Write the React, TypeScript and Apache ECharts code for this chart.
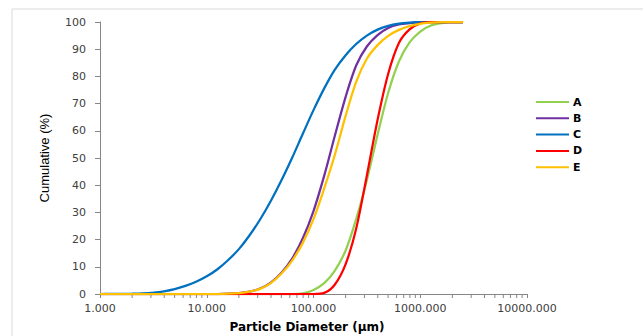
import React, { useEffect, useRef } from "react";
import * as echarts from "echarts";

// particle size classes (µm), 10 per decade
const sizes = [1, 1.26, 1.58, 2.0, 2.51, 3.16, 3.98, 5.01, 6.31, 7.94, 10, 12.6, 15.8, 20.0, 25.1, 31.6, 39.8, 50.1, 63.1, 79.4, 100, 126, 158, 200, 251, 316, 398, 501, 631, 794, 1000, 1259, 1585, 1995, 2512];

const seriesA = [0, 0, 0, 0, 0, 0, 0, 0, 0, 0, 0, 0, 0, 0, 0, 0, 0, 0, 0, 0.25, 1.5, 4.0, 8.5, 16, 27.5, 41.8, 58.5, 74, 85.5, 92.5, 96.5, 98.7, 99.6, 100, 100];
const seriesB = [0, 0, 0, 0, 0, 0, 0, 0, 0, 0, 0, 0, 0.1, 0.35, 0.85, 2.0, 4.2, 7.8, 13, 20.5, 30.5, 43.5, 58, 72.5, 84, 91, 95.2, 97.8, 99.1, 99.6, 99.9, 100, 100, 100, 100];
const seriesC = [0, 0.01, 0.04, 0.1, 0.22, 0.5, 1.0, 1.8, 3.0, 4.5, 6.5, 9.1, 12.4, 16.5, 21.5, 27.4, 34.2, 41.8, 50.1, 58.9, 67.6, 75.6, 82.4, 87.8, 91.9, 95.0, 97.2, 98.6, 99.4, 99.8, 100, 100, 100, 100, 100];
const seriesD = [0, 0, 0, 0, 0, 0, 0, 0, 0, 0, 0, 0, 0, 0, 0, 0, 0, 0, 0, 0, 0, 0.4, 3.4, 11, 24, 43.5, 64, 81, 92.3, 97.3, 99.5, 99.95, 100, 100, 100];
const seriesE = [0, 0, 0, 0, 0, 0, 0, 0, 0, 0, 0, 0, 0.1, 0.35, 0.85, 1.9, 4.0, 7.5, 12.3, 18.8, 27.5, 38.8, 51, 65.5, 78, 86.5, 91.5, 94.9, 97.1, 98.5, 99.35, 99.75, 99.95, 100, 100];

const seriesNames = ["A", "B", "C", "D", "E"];
const seriesColors = ["#92D050", "#7030A0", "#0070C0", "#FF0000", "#FFC000"];
const seriesValues = [seriesA, seriesB, seriesC, seriesD, seriesE];

const minorTicks = [2, 3, 4, 5, 6, 7, 8, 9, 20, 30, 40, 50, 60, 70, 80, 90, 200, 300, 400, 500, 600, 700, 800, 900, 2000, 3000, 4000, 5000, 6000, 7000, 8000, 9000];

const xTitle = "Particle Diameter (µm)";
const yTitle = "Cumulative (%)";

export default function App() {
  const ref = useRef<HTMLDivElement>(null);
  useEffect(() => {
    if (!ref.current) return;
    const chart = echarts.init(ref.current, null, { renderer: "svg" });
    const axisColor = "#868686";
    const labelColor = "#404040";
    const font = "DejaVu Sans";
    chart.setOption({
      animation: false,
      backgroundColor: "#ffffff",
      grid: { left: 100, right: 116, top: 22, bottom: 42, containLabel: false },
      legend: {
        data: seriesNames,
        orient: "vertical",
        left: 531,
        top: 90,
        icon: "rect",
        itemWidth: 33,
        itemHeight: 2,
        itemGap: 2.3,
        textStyle: { fontFamily: font, fontSize: 11, fontWeight: "bold", color: "#000", lineHeight: 14, padding: [0, 0, 0, -1] },
      },
      xAxis: {
        type: "log",
        logBase: 10,
        min: 1,
        max: 10000,
        axisLine: { show: true, lineStyle: { color: axisColor, width: 1 } },
        axisTick: { show: true, length: 4, lineStyle: { color: axisColor } },
        splitLine: { show: false },
        axisLabel: {
          margin: 9,
          fontFamily: font,
          fontSize: 11,
          color: labelColor,
          formatter: (v: number) => v.toFixed(3),
        },
      },
      yAxis: {
        type: "value",
        min: 0,
        max: 100,
        interval: 10,
        axisLine: { show: true, lineStyle: { color: axisColor, width: 1 } },
        axisTick: { show: true, length: 5, lineStyle: { color: axisColor } },
        splitLine: { show: false },
        axisLabel: { margin: 14, fontFamily: font, fontSize: 11, color: labelColor },
      },
      graphic: [
        {
          type: "rect",
          shape: { x: 12, y: 9, width: 700, height: 400 },
          style: { fill: "none", stroke: "#d9d9d9", lineWidth: 1 },
          silent: true,
          z: -10,
        },
        {
          type: "text",
          x: 307,
          y: 327,
          style: {
            text: xTitle,
            fontFamily: font,
            fontSize: 12,
            fontWeight: "bold",
            fill: "#000",
            align: "center",
            verticalAlign: "middle",
          },
        },
        {
          type: "text",
          x: 44,
          y: 158,
          rotation: Math.PI / 2,
          style: {
            text: yTitle,
            fontFamily: "Liberation Sans Narrow, Liberation Sans, sans-serif",
            fontSize: 13,
            fill: "#000",
            align: "center",
            verticalAlign: "middle",
          },
        },
      ],
      series: [
        ...seriesNames.map((name, i) => ({
          name,
          type: "line",
          data: sizes.map((s, j) => [s, seriesValues[i][j]]),
          showSymbol: false,
          symbol: "none",
          smooth: 0.3,
          lineStyle: { color: seriesColors[i], width: 2.25 },
          itemStyle: { color: seriesColors[i] },
          z: 3,
        })),
        {
          type: "custom",
          name: "minorTicks",
          silent: true,
          data: minorTicks.map((v) => [v, 0]),
          renderItem: (params: any, api: any) => {
            const p = api.coord([api.value(0), 0]);
            return {
              type: "line",
              shape: { x1: p[0], y1: p[1], x2: p[0], y2: p[1] + 4 },
              style: { stroke: axisColor, lineWidth: 1 },
            };
          },
          z: 1,
        },
      ],
    });
    return () => chart.dispose();
  }, []);
  return <div ref={ref} style={{ position: "absolute", left: 0, top: 0, width: 643, height: 336 }} />;
}
